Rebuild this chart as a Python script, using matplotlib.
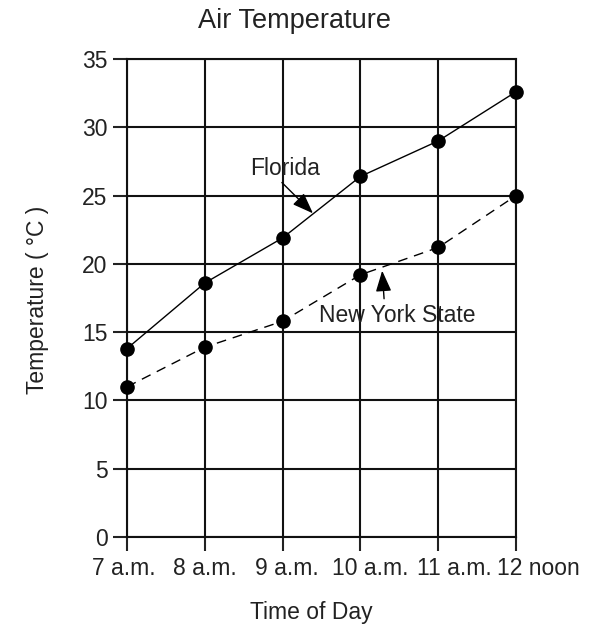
import matplotlib
matplotlib.use('Agg')
import matplotlib.pyplot as plt
from matplotlib.transforms import ScaledTranslation

plt.rcParams['font.family'] = ['Liberation Sans', 'DejaVu Sans']

times = ['7 a.m.', '8 a.m.', '9 a.m.', '10 a.m.', '11 a.m.', '12 noon']
florida = [13.8, 18.6, 21.9, 26.4, 29.0, 32.6]
new_york = [11.0, 13.9, 15.8, 19.2, 21.2, 25.0]
yticks = [0, 5, 10, 15, 20, 25, 30, 35]

# hand-set label shifts (px) left of each tick, as in the printed chart
label_shift = [-35, -31.5, -27.5, -28, -21.5, -18.5]

fig = plt.figure(figsize=(6.11, 6.4), dpi=100)
ax = fig.add_axes([0.2079, 0.1609, 0.6366, 0.7469])

x = list(range(len(times)))
ax.plot(x, florida, color='black', lw=1.0, marker='o', ms=9.5, clip_on=False, zorder=3)
ax.plot(x, new_york, color='black', lw=1.0, ls=(0, (7, 5)), marker='o', ms=9.5,
        clip_on=False, zorder=3)

ax.set_xlim(0, 5)
ax.set_ylim(0, 35)
ax.set_xticks(x)
ax.set_xticklabels([])
ax.set_yticks(yticks)
ax.set_yticklabels([str(v) for v in yticks], fontsize=16.5)
ax.tick_params(direction='out', length=10, width=1.5, pad=4, colors='#222222')
ax.grid(True, color='#111111', lw=1.5)
for s in ax.spines.values():
    s.set_linewidth(1.5)
    s.set_color('#111111')

for xi, lab, sh in zip(x, times, label_shift):
    tr = ax.get_xaxis_transform() + ScaledTranslation(sh / 100, -38 / 100, fig.dpi_scale_trans)
    ax.text(xi, 0, lab, transform=tr, ha='left', va='baseline', fontsize=16.5,
            color='#222222')

fig.text(294 / 611, 1 - 21 / 640, 'Air Temperature', fontsize=19.5, color='#222222',
         ha='center', va='center')
fig.text(311 / 611, 1 - 619 / 640, 'Time of Day', fontsize=16.5, color='#222222',
         ha='center', va='baseline')
fig.text(38 / 611, 1 - 300 / 640, 'Temperature ( °C )', fontsize=16.5, color='#222222',
         ha='center', va='center', rotation=90)

ax.annotate('Florida', xy=(2.39, 23.7), xytext=(2.03, 27.0), fontsize=16.5,
            ha='center', va='center', color='#222222',
            arrowprops=dict(arrowstyle='-|>,head_length=0.8,head_width=0.3',
                            color='black', lw=1.0, relpos=(0.4, 0.05),
                            mutation_scale=16, shrinkA=0, shrinkB=0))
ax.annotate('New York State', xy=(3.28, 19.5), xytext=(3.47, 16.2), fontsize=16.5,
            ha='center', va='center', color='#222222',
            arrowprops=dict(arrowstyle='-|>,head_length=0.8,head_width=0.3',
                            color='black', lw=1.0, relpos=(0.42, 1.0),
                            mutation_scale=16, shrinkA=2, shrinkB=0))

fig.savefig('out.png', dpi=100)
